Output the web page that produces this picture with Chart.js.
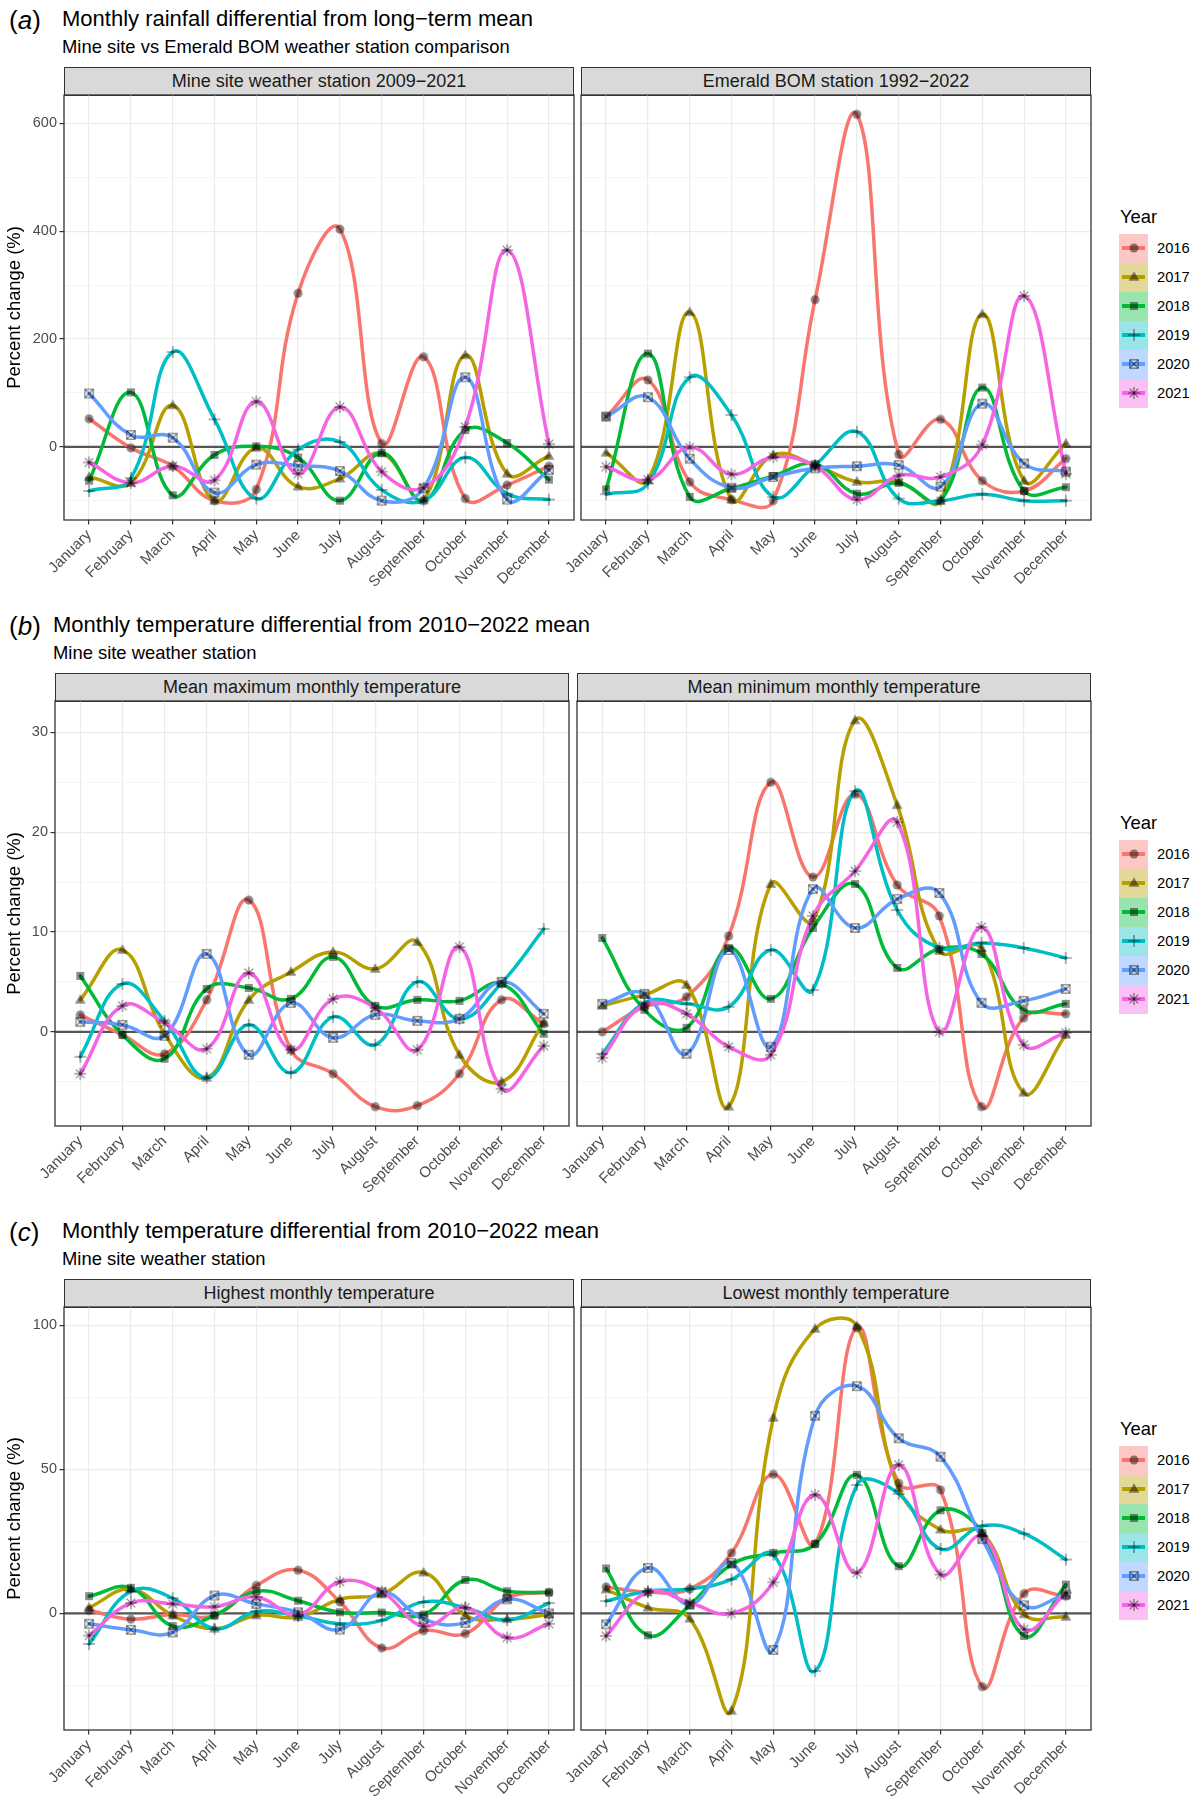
<!DOCTYPE html>
<html>
<head>
<meta charset="utf-8">
<script src="https://cdn.jsdelivr.net/npm/chart.js@4.4.1/dist/chart.umd.min.js"></script>
<style>
html,body{margin:0;padding:0;background:#fff;}
body{width:1194px;height:1813px;position:relative;overflow:hidden;font-family:"Liberation Sans",Arial,Helvetica,sans-serif;color:#000;}
.t{position:absolute;white-space:nowrap;line-height:1;}
.strip{position:absolute;background:#d9d9d9;border:1.2px solid #333;box-sizing:border-box;display:flex;align-items:center;justify-content:center;font-size:18px;color:#1a1a1a;white-space:nowrap;}
canvas{position:absolute;}
.key{position:absolute;width:29px;height:29px;}
.keyline{position:absolute;left:3px;right:3px;top:12.5px;height:4px;}
</style>
</head>
<body>
<script>
// ---------- categories / labels ----------
const months = ['January','February','March','April','May','June','July','August','September','October','November','December'];
const years = ['2016','2017','2018','2019','2020','2021'];

// ---------- (a) rainfall, % change (rows: 2016..2021) ----------
const rainMine = [
  [52, -2, -36, -100, -79, 285, 404, 6, 167, -96, -71, -36],
  [-56, -67, 77, -100, -2, -74, -59, -12, -98, 170, -50, -17],
  [-63, 101, -90, -15, 1, -20, -100, -11, -100, 31, 7, -61],
  [-82, -58, 176, 51, -96, -5, 9, -80, -100, -20, -87, -98],
  [99, 22, 17, -85, -33, -35, -45, -100, -77, 129, -98, -43],
  [-29, -67, -36, -62, 84, -50, 74, -46, -76, 37, 365, 5]
];
const rainBOM = [
  [56, 124, -65, -98, -100, 273, 617, -14, 51, -63, -82, -22],
  [-11, -61, 250, -98, -15, -34, -65, -65, -100, 246, -63, 6],
  [-79, 173, -93, -77, -54, -32, -87, -67, -100, 110, -82, -75],
  [-88, -68, 129, 59, -93, -34, 28, -96, -100, -88, -100, -100],
  [56, 92, -22, -76, -56, -40, -36, -34, -74, 80, -31, -46],
  [-37, -61, -1, -51, -19, -36, -98, -53, -56, 4, 280, -50]
];
// ---------- (b) mean max / mean min temperature ----------
const meanMax = [
  [1.7, -0.3, -2.2, 3.2, 13.2, -1.8, -4.2, -7.5, -7.4, -4.2, 3.2, 0.8],
  [3.2, 8.2, -0.2, -4.6, 3.2, 6.0, 8.0, 6.3, 9.0, -2.3, -5.0, 0.9],
  [5.6, -0.3, -2.7, 4.3, 4.4, 3.3, 7.5, 2.6, 3.2, 3.1, 4.8, -0.2],
  [-2.5, 4.8, 1.1, -4.6, 0.7, -4.1, 1.5, -1.3, 5.0, 1.3, 4.9, 10.3],
  [1.0, 0.7, -0.4, 7.8, -2.3, 2.9, -0.6, 1.7, 1.1, 1.3, 5.0, 1.8],
  [-4.2, 2.6, 0.9, -1.7, 5.9, -1.8, 3.3, 2.4, -1.8, 8.5, -5.7, -1.4]
];
const meanMin = [
  [0, 2.5, 3.5, 9.6, 25.0, 15.5, 23.8, 14.7, 11.6, -7.5, 1.4, 1.8],
  [2.6, 3.7, 4.7, -7.5, 14.8, 11.1, 31.2, 22.7, 8.1, 8.4, -6.1, -0.3],
  [9.4, 2.2, 0.4, 8.4, 3.3, 10.4, 14.8, 6.4, 8.3, 7.8, 2.2, 2.8],
  [-2.2, 2.9, 2.8, 2.5, 8.2, 4.2, 24.1, 12.2, 8.4, 8.9, 8.4, 7.4],
  [2.8, 3.8, -2.2, 8.2, -1.5, 14.3, 10.4, 13.3, 13.9, 2.9, 3.1, 4.3],
  [-2.6, 2.7, 1.8, -1.5, -2.3, 11.6, 16.1, 21.0, 0, 10.5, -1.3, -0.1]
];
// ---------- (c) highest / lowest monthly temperature ----------
const highest = [
  [1.1, -2.0, -0.4, -0.7, 9.7, 15.0, 4.0, -12.0, -6.0, -7.0, 5.3, 7.3],
  [2.0, 8.4, -0.7, -5.3, -0.7, -1.3, 4.9, 6.6, 14.2, -0.7, -2.0, -0.4],
  [6.0, 8.9, -4.4, -0.7, 7.7, 4.4, 0.4, 0.3, -0.4, 11.6, 7.7, 7.3],
  [-10.6, 7.7, 5.3, -5.3, 0.7, -0.9, -3.6, -2.4, 4.0, 2.0, -2.3, 3.6],
  [-3.6, -5.7, -6.6, 6.2, 3.3, 0.4, -5.6, 7.3, -2.0, -3.3, 4.9, 0],
  [-7.7, 3.6, 3.3, 2.3, 5.7, -0.4, 11.0, 7.6, -4.4, 2.0, -8.4, -3.6]
];
const lowest = [
  [9.2, 7.4, 8.5, 21.0, 48.3, 24.2, 99.2, 45.2, 42.9, -25.4, 6.9, 6.0],
  [8.3, 2.0, -1.8, -33.8, 67.9, 98.8, 99.7, 43.5, 29.1, 27.9, -0.3, -1.2],
  [15.6, -7.6, 2.8, 17.0, 21.0, 24.1, 48.1, 16.4, 35.8, 27.9, -7.8, 10.0],
  [4.3, 7.7, 8.5, 11.8, 20.4, -20.0, 44.6, 41.5, 22.4, 30.4, 27.7, 18.7],
  [-3.8, 15.8, 3.1, 17.5, -12.7, 68.6, 78.9, 60.8, 54.4, 25.8, 2.8, 6.6],
  [-7.8, 7.4, 3.7, 0, 10.8, 41.2, 14.1, 51.6, 13.5, 26.8, -5.5, 7.2]
];

// ---------- styles ----------
const colors = ['#F8766D','#B79F00','#00BA38','#00BFC4','#619CFF','#F564E3'];
const keyFills = ['rgba(248,118,109,0.4)','rgba(183,159,0,0.4)','rgba(0,186,56,0.4)','rgba(0,191,196,0.4)','rgba(97,156,255,0.4)','rgba(245,100,227,0.4)'];
const markerKinds = ['circle','triangle','square','plus','boxx','asterisk'];

function makeMarker(kind){
  const s = 16, c = document.createElement('canvas');
  c.width = s; c.height = s;
  const g = c.getContext('2d'); const m = s/2;
  g.fillStyle = 'rgba(0,0,0,0.45)';
  g.strokeStyle = 'rgba(0,0,0,0.5)';
  g.lineWidth = 1.2;
  const ln = (x1,y1,x2,y2)=>{g.beginPath();g.moveTo(x1,y1);g.lineTo(x2,y2);g.stroke();};
  if (kind==='circle'){g.beginPath();g.arc(m,m,4.5,0,Math.PI*2);g.fill();}
  else if (kind==='triangle'){g.beginPath();g.moveTo(m,m-5.8);g.lineTo(m+5.4,m+3.7);g.lineTo(m-5.4,m+3.7);g.closePath();g.fill();}
  else if (kind==='square'){g.fillRect(m-4,m-4,8,8);}
  else if (kind==='plus'){ln(m-6,m,m+6,m);ln(m,m-6,m,m+6);}
  else if (kind==='boxx'){g.strokeRect(m-4.2,m-4.2,8.4,8.4);ln(m-4.2,m-4.2,m+4.2,m+4.2);ln(m-4.2,m+4.2,m+4.2,m-4.2);}
  else if (kind==='asterisk'){ln(m-6,m,m+6,m);ln(m,m-6,m,m+6);ln(m-4.3,m-4.3,m+4.3,m+4.3);ln(m-4.3,m+4.3,m+4.3,m-4.3);}
  return c;
}
const markers = markerKinds.map(makeMarker);

// ---------- layout ----------
const rows = [
  {tag:'a', title:'Monthly rainfall differential from long\u2212term mean', sub:'Mine site vs Emerald BOM weather station comparison',
   stripTop:67, plotTop:95, plotBottom:520, minor:100, major:200,
   panels:[{x0:64,x1:574,strip:'Mine site weather station 2009\u22122021',data:rainMine},
           {x0:581,x1:1091,strip:'Emerald BOM station 1992\u22122022',data:rainBOM}]},
  {tag:'b', title:'Monthly temperature differential from 2010\u22122022 mean', sub:'Mine site weather station',
   stripTop:673, plotTop:701, plotBottom:1126, minor:5, major:10,
   panels:[{x0:55,x1:569,strip:'Mean maximum monthly temperature',data:meanMax},
           {x0:577,x1:1091,strip:'Mean minimum monthly temperature',data:meanMin}]},
  {tag:'c', title:'Monthly temperature differential from 2010\u22122022 mean', sub:'Mine site weather station',
   stripTop:1279, plotTop:1307, plotBottom:1730, minor:25, major:50,
   panels:[{x0:64,x1:574,strip:'Highest monthly temperature',data:highest},
           {x0:581,x1:1091,strip:'Lowest monthly temperature',data:lowest}]}
];

Chart.defaults.font.family = '"Liberation Sans", Arial, Helvetica, sans-serif';

function addText(html, left, top, size, extra){
  const d = document.createElement('div');
  d.className = 't'; d.innerHTML = html;
  d.style.left = left+'px'; d.style.top = top+'px'; d.style.fontSize = size+'px';
  if (extra) Object.assign(d.style, extra);
  document.body.appendChild(d);
  return d;
}

const panelPlugin = {
  id:'panelDeco',
  beforeDatasetsDraw(chart){
    const {ctx, chartArea:a, scales:{y}} = chart;
    const yy = y.getPixelForValue(0);
    ctx.save();
    ctx.strokeStyle = '#555'; ctx.lineWidth = 2.2;
    ctx.beginPath(); ctx.moveTo(a.left, yy); ctx.lineTo(a.right, yy); ctx.stroke();
    ctx.restore();
  },
  afterDraw(chart){
    const {ctx, chartArea:a} = chart;
    ctx.save();
    ctx.strokeStyle = '#333'; ctx.lineWidth = 1.3;
    ctx.strokeRect(a.left, a.top, a.right-a.left, a.bottom-a.top);
    ctx.restore();
  }
};

function makeChart(row, p, isLeft, yMin, yMax){
  const XH = 90;
  const canvasLeft = isLeft ? 0 : p.x0 - 60;
  const yw = p.x0 - canvasLeft;
  const cw = p.x1 - canvasLeft + 1;
  const ch = row.plotBottom - row.plotTop + 1 + XH;
  const cv = document.createElement('canvas');
  cv.width = cw; cv.height = ch;
  cv.style.left = canvasLeft+'px'; cv.style.top = (row.plotTop-1)+'px';
  cv.style.width = cw+'px'; cv.style.height = ch+'px';
  document.body.appendChild(cv);

  const datasets = [];
  p.data.forEach((vals,i)=>{
    datasets.push({label:years[i], data: vals.map((v,j)=>({x:j,y:v})), borderColor:colors[i],
      borderWidth:3.5, tension:0.42, pointRadius:0, fill:false, order:20-i,
      borderCapStyle:'round', borderJoinStyle:'round'});
  });
  p.data.forEach((vals,i)=>{
    datasets.push({label:years[i]+' points', data: vals.map((v,j)=>({x:j,y:v})), showLine:false,
      pointStyle:markers[i], pointRadius:5, order:10-i});
  });

  const major = row.major, minor = row.minor;
  const isMajor = v => Math.abs(v/major - Math.round(v/major)) < 1e-9;

  return new Chart(cv, {
    type:'line',
    data:{datasets},
    plugins:[panelPlugin],
    options:{
      responsive:false, maintainAspectRatio:false, animation:false, events:[],
      layout:{padding:{top:1,right:1,left:0,bottom:0}, autoPadding:false},
      plugins:{legend:{display:false}, tooltip:{enabled:false}},
      scales:{
        x:{type:'linear', min:-0.6, max:11.6,
          border:{display:false},
          grid:{color:'#ebebeb', lineWidth:1.2, tickLength:4.5, tickColor:'#333', drawTicks:true},
          ticks:{autoSkip:false, minRotation:45, maxRotation:45, padding:2, color:'#4d4d4d',
                 font:{size:15}, callback:(v)=> months[v] ?? ''},
          afterBuildTicks:(s)=>{ s.ticks = months.map((m,i)=>({value:i})); },
          afterFit:(s)=>{ s.height = XH; s.paddingLeft = 0; s.paddingRight = 0; }
        },
        y:{type:'linear', min:yMin, max:yMax,
          border:{display:false},
          grid:{
            color:(c)=> isMajor(c.tick.value) ? '#ebebeb' : '#f3f3f3',
            lineWidth:(c)=> isMajor(c.tick.value) ? 1.2 : 0.8,
            tickColor:(c)=> isMajor(c.tick.value) ? '#333' : 'rgba(0,0,0,0)',
            tickLength:4.5, drawTicks:isLeft},
          ticks:{display:isLeft, autoSkip:false, padding:2.5, color:'#4d4d4d', font:{size:14.5},
                 callback:(v)=> isMajor(v) ? String(Math.round(v)) : ''},
          title:{display:isLeft, text:'Percent change (%)', color:'#000', font:{size:18.4}, padding:{top:4,bottom:0}},
          afterBuildTicks:(s)=>{
            const t = [];
            for (let v = Math.ceil(yMin/minor)*minor; v <= yMax + 1e-9; v += minor) t.push({value: Math.round(v*1000)/1000});
            s.ticks = t;
          },
          afterFit:(s)=>{ s.width = yw; s.paddingTop = 0; s.paddingBottom = 0; }
        }
      }
    }
  });
}

rows.forEach(row=>{
  // titles
  const tl = row.panels[0].x0 - 2;
  addText('(<i>'+row.tag+'</i>)', 9, row.stripTop - 45 - 15.2, 26);
  addText(row.title, tl, row.stripTop - 48 - 10.8, 22);
  addText(row.sub, tl, row.stripTop - 20 - 9.1, 18.4);
  // y-range (ggplot-style 5% expansion, shared across the row)
  let mn = Infinity, mx = -Infinity;
  row.panels.forEach(p=>p.data.forEach(r=>r.forEach(v=>{mn=Math.min(mn,v);mx=Math.max(mx,v);})));
  const pad = 0.05*(mx-mn);
  const yMin = mn - pad, yMax = mx + pad;
  row.panels.forEach((p,k)=>{
    const s = document.createElement('div');
    s.className = 'strip';
    s.style.left = p.x0+'px'; s.style.top = row.stripTop+'px';
    s.style.width = (p.x1-p.x0)+'px'; s.style.height = (row.plotTop - row.stripTop + 1)+'px';
    s.textContent = p.strip;
    document.body.appendChild(s);
    makeChart(row, p, k===0, yMin, yMax);
  });
  // legend
  const lc = row.stripTop + 149.5;
  addText('Year', 1120, lc - 9, 18.4);
  years.forEach((y,i)=>{
    const top = row.stripTop + 166.5 + i*29;
    const k = document.createElement('div');
    k.className = 'key'; k.style.left = '1119px'; k.style.top = top+'px'; k.style.background = keyFills[i];
    const l = document.createElement('div'); l.className = 'keyline'; l.style.background = colors[i];
    k.appendChild(l);
    const m = markers[i].cloneNode(); m.getContext('2d').drawImage(markers[i],0,0);
    m.style.left = '6.5px'; m.style.top = '6.5px';
    k.appendChild(m);
    document.body.appendChild(k);
    addText(y, 1157, top + 14.5 - 7.2, 14.7);
  });
});
</script>
</body>
</html>
